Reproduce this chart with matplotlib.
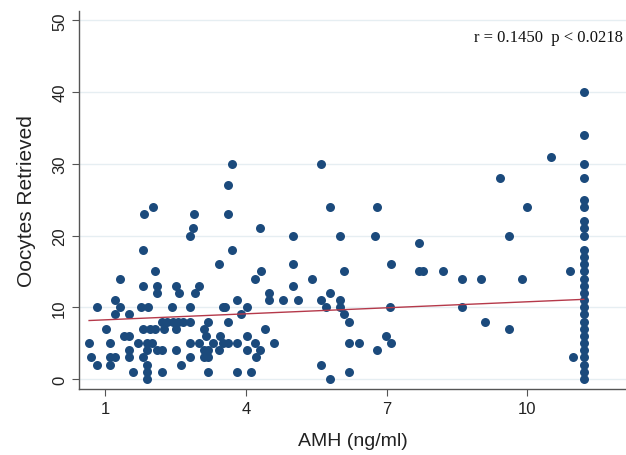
import matplotlib
matplotlib.use("Agg")
import matplotlib.pyplot as plt

# AMH (ng/ml) values, grouped by oocyte count
amh = [
    3.70, 5.61,
    3.61,
    2.02, 5.80, 6.80, 10.0,
    1.83, 2.90, 3.61,
    2.88, 4.30,
    2.80, 5.0, 6.0, 6.76, 9.6,
    1.80, 3.70,
    7.70,
    3.42, 5.0, 7.09,
    2.06, 4.32, 6.10, 7.70, 7.78, 8.20, 10.9,
    1.31, 4.2, 5.41, 8.6, 9.0, 9.88,
    1.81, 2.11, 2.51, 3.01, 5.0,
    2.11, 2.57, 2.91, 4.5, 5.80,
    1.21, 3.81, 4.5, 4.8, 5.12, 5.61, 6.01,
    0.82, 1.31, 1.76, 1.92, 2.42, 2.81, 3.51, 3.56, 4.02, 5.70, 6.0, 7.08, 8.6,
    1.21, 1.5, 3.89, 6.10,
    2.22, 2.33, 2.44, 2.55, 2.66, 2.80, 3.20, 3.61, 6.20, 9.09,
    1.02, 1.81, 1.96, 2.06, 2.26, 2.51, 3.10, 4.41, 9.6,
    1.40, 1.50, 3.15, 3.44, 4.02, 6.99,
    0.66, 1.11, 1.70, 1.90, 2.00, 2.81, 3.01, 3.30, 3.51, 3.61, 3.81, 4.20, 4.60, 6.20, 6.41, 7.09,
    1.50, 1.90, 2.11, 2.21, 2.51, 3.11, 3.20, 3.42, 4.02, 4.30, 6.80,
    0.71, 1.11, 1.21, 1.50, 1.81, 2.80, 3.11, 3.20, 4.22, 10.98,
    0.82, 1.11, 1.90, 2.62, 5.61,
    1.60, 1.90, 2.21, 3.20, 3.81, 4.11, 6.2,
    1.90, 5.80,
    10.5, 9.41,
]
oocytes = (
    [30, 30]
    + [27]
    + [24] * 4
    + [23] * 3
    + [21] * 2
    + [20] * 5
    + [18] * 2
    + [19]
    + [16] * 3
    + [15] * 7
    + [14] * 6
    + [13] * 5
    + [12] * 5
    + [11] * 7
    + [10] * 13
    + [9] * 4
    + [8] * 10
    + [7] * 9
    + [6] * 6
    + [5] * 16
    + [4] * 11
    + [3] * 10
    + [2] * 5
    + [1] * 7
    + [0] * 2
    + [31, 28]
)

# capped AMH column on the right
col_x = 11.2
col_y = list(range(0, 19)) + [20, 21, 22, 24, 25, 28, 30, 34, 40]

fit_x = [0.66, 11.2]
fit_y = [8.15, 11.1]

plt.rcParams['font.family'] = ['Liberation Sans', 'DejaVu Sans']

fig = plt.figure(figsize=(6.26, 4.56), dpi=100)
ax = fig.add_axes([0.1262, 0.1447, 0.8738, 0.8289])

dot = '#1b4a7c'
ax.scatter(amh, oocytes, s=42, color=dot, zorder=3, linewidths=0)
ax.scatter([col_x] * len(col_y), col_y, s=42, color=dot, zorder=3, linewidths=0)
ax.plot(fit_x, fit_y, color='#b5394a', lw=1.0, zorder=4)

ax.set_xlim(0.445, 12.1)
ax.set_ylim(-1.4, 51.3)
ax.set_xticks([1, 4, 7, 10])
ax.set_yticks(range(0, 51, 10))
for t in range(0, 51, 10):
    ax.axhline(t, color='#e6eef2', lw=1.0, zorder=1)

for s in ['top', 'right']:
    ax.spines[s].set_visible(False)
for s in ['left', 'bottom']:
    ax.spines[s].set_color('#555555')
    ax.spines[s].set_linewidth(1.0)

ax.tick_params(axis='both', direction='out', length=5, color='#555555',
               labelsize=12, labelcolor='#222222')
for lab in ax.get_yticklabels():
    lab.set_rotation(90)
    lab.set_va('center')

ax.set_ylabel('Oocytes Retrieved', fontsize=15, color='#222222', labelpad=12)
ax.set_xlabel('AMH (ng/ml)', fontsize=14, color='#222222', labelpad=12)

ax.text(0.995, 0.93, 'r = 0.1450  p < 0.0218', transform=ax.transAxes,
        ha='right', va='center', fontsize=12, family='Liberation Serif', color='#111111')

fig.savefig('out.png', dpi=100)
